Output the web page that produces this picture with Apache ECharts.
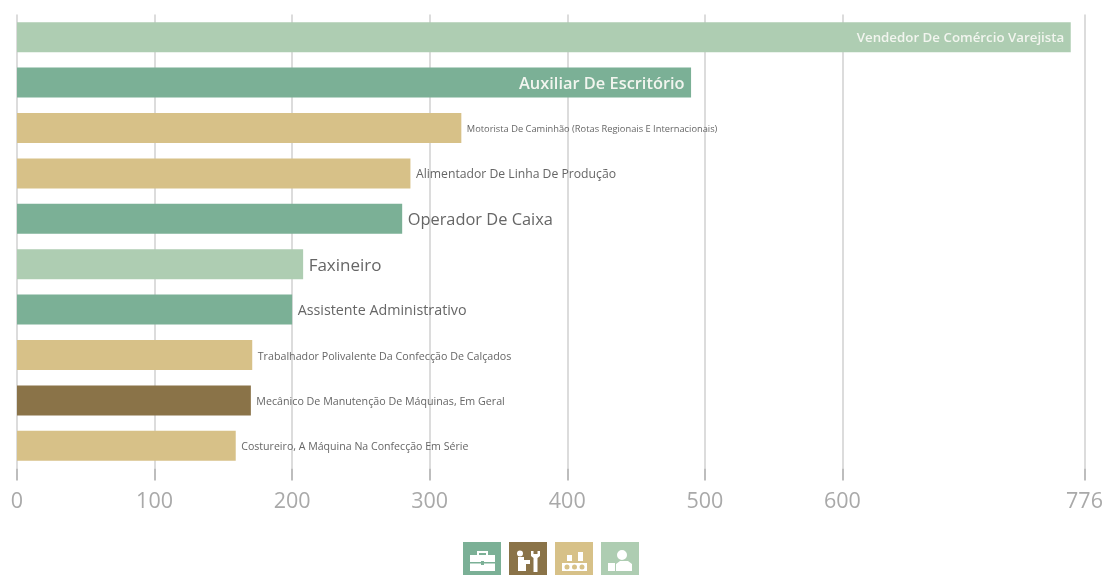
<!DOCTYPE html>
<html>
<head>
<meta charset="utf-8">
<style>html,body{margin:0;padding:0;background:#fff;overflow:hidden}#c{width:1106px;height:575px}</style>
<script src="https://cdn.jsdelivr.net/npm/echarts@6/dist/echarts.min.js"></script>
</head>
<body>
<div id="c"></div>
<script>
const categories = [
  "Vendedor De Comércio Varejista",
  "Auxiliar De Escritório",
  "Motorista De Caminhão (Rotas Regionais E Internacionais)",
  "Alimentador De Linha De Produção",
  "Operador De Caixa",
  "Faxineiro",
  "Assistente Administrativo",
  "Trabalhador Polivalente Da Confecção De Calçados",
  "Mecânico De Manutenção De Máquinas, Em Geral",
  "Costureiro, A Máquina Na Confecção Em Série"
];
const values = [766, 490, 323, 286, 280, 208, 200, 171, 170, 159];
const groups = [3, 0, 2, 2, 0, 3, 0, 2, 1, 2];
const groupNames = ["Administrativo", "Manutenção", "Produção", "Serviços"];
const axisTicks = [0, 100, 200, 300, 400, 500, 600, 776];

const groupColors = ["#7bb096", "#8a7348", "#d7c188", "#aecdb2"];
const labelFontSizes = [13.3, 16.4, 9.3, 12.2, 16.4, 17, 14.3, 10.7, 10.7, 10.6];
const sq = "M0 0H38V38H0Z ";
const groupIcons = [
  // briefcase
  sq + "M7 13V29H32V13H25V9H14V13Z M16 13V11H23V13Z M7 20H32V21.5H7Z M18 19H21V23H18Z",
  // worker and wrench
  sq + "M9 15V29H17V22H21V18H15V15Z M8 11.5A3 3 0 0 0 14 11.5A3 3 0 0 0 8 11.5Z M22 9V14L24.5 16V30H28.5V16L31 14V9H28.5V12H24.5V9Z",
  // conveyor belt
  sq + "M7 21V29H32V21Z M9.5 25A2.5 2.5 0 0 1 14.5 25A2.5 2.5 0 0 1 9.5 25Z M17 25A2.5 2.5 0 0 1 22 25A2.5 2.5 0 0 1 17 25Z M24.5 25A2.5 2.5 0 0 1 29.5 25A2.5 2.5 0 0 1 24.5 25Z M12 13V19H17V13Z M23 10V19H28V10Z",
  // person behind a box
  sq + "M16 13A5 5 0 0 0 26 13A5 5 0 0 0 16 13Z M15 22V29H31V22L27 19H19Z M7 21V29H14V21Z"
];

const series = groupNames.map((name, g) => ({
  name,
  type: "bar",
  stack: "all",
  barWidth: 30,
  itemStyle: { color: groupColors[g] },
  data: values.map((v, i) => groups[i] !== g ? "-" : {
    value: v,
    label: {
      show: true,
      formatter: categories[i],
      position: i < 2 ? "insideRight" : "right",
      distance: 6,
      offset: [-0.5, 1.5],
      color: i < 2 ? "#f2f5ef" : "#666",
      fontSize: labelFontSizes[i],
      fontWeight: i < 2 ? 600 : 500,
      fontFamily: "'Open Sans', sans-serif"
    }
  })
}));

const chart = echarts.init(document.getElementById("c"), null, { renderer: "canvas" });
chart.setOption({
  animation: false,
  backgroundColor: "#fff",
  grid: { left: 17, top: 14.5, width: 1067.5, height: 454 },
  legend: {
    top: 542, left: 463, itemWidth: 38, itemHeight: 38, itemGap: 8,
    padding: 0, selectedMode: false,
    formatter: () => "",
    textStyle: { fontSize: 1, padding: 0 },
    data: groupNames.map((name, g) => ({ name, icon: "path://" + groupIcons[g] }))
  },
  xAxis: {
    type: "value", min: 0, max: 776,
    axisLine: { show: false },
    axisTick: { show: true, customValues: axisTicks, length: 12, lineStyle: { color: "#bdbdbd", width: 2 } },
    axisLabel: { show: true, customValues: axisTicks, margin: 22, color: "#a9a9a9", fontSize: 21.5, fontFamily: "'Open Sans', sans-serif", hideOverlap: false },
    splitLine: { show: true, lineStyle: { color: "#dcdcdc", width: 2 } }
  },
  yAxis: {
    type: "category", inverse: true, data: categories,
    axisLine: { show: false }, axisTick: { show: false }, axisLabel: { show: false }
  },
  series
});
</script>
</body>
</html>
